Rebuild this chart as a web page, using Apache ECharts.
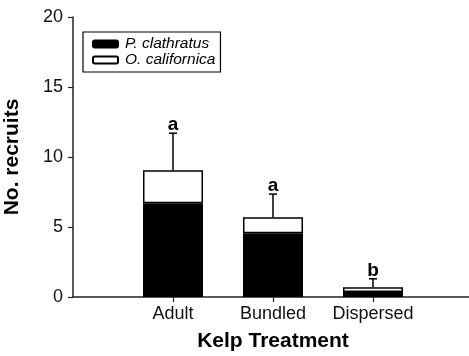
<!DOCTYPE html>
<html><head><meta charset="utf-8">
<script src="https://cdn.jsdelivr.net/npm/echarts@6/dist/echarts.min.js"></script>
<style>html,body{margin:0;padding:0;background:#fff}#c{width:469px;height:356px}</style>
</head><body><div id="c"></div>
<script>
const categories = ['Adult', 'Bundled', 'Dispersed'];
const pClathratus = [6.7, 4.55, 0.35];
const oCalifornica = [2.35, 1.15, 0.35];
const errorUpper = [11.7, 7.35, 1.3];
const letters = ['a', 'a', 'b'];
const yTicks = [0, 5, 10, 15, 20];

const axisCats = [''].concat(categories).concat(['']);
const pad = arr => ['-'].concat(arr).concat(['-']);
const errData = categories.map((c, i) => [i + 1, pClathratus[i] + oCalifornica[i], errorUpper[i], letters[i]]);
const font = 'Liberation Sans, Arial, sans-serif';

const chart = echarts.init(document.getElementById('c'));
chart.setOption({
  animation: false,
  backgroundColor: '#fff',
  grid: { left: 73, right: -4, top: 17, bottom: 59, containLabel: false, outerBoundsMode: 'none' },
  legend: {
    left: 83, top: 32, orient: 'vertical',
    data: ['P. clathratus', 'O. californica'],
    itemWidth: 25, itemHeight: 7, itemGap: 0,
    padding: [4, 5, 4, 9],
    borderColor: '#000', borderWidth: 1.2, borderRadius: 0,
    selectedMode: false,
    textStyle: { fontFamily: font, fontSize: 15.5, fontStyle: 'italic', color: '#000', padding: [0, 0, 0, 2] }
  },
  xAxis: {
    type: 'category', data: axisCats, boundaryGap: false,
    axisLine: { lineStyle: { color: '#222', width: 1.5 } },
    axisTick: { length: 5, interval: (i, v) => v !== '', lineStyle: { color: '#222', width: 1.2 } },
    axisLabel: { interval: 0, margin: 8, fontFamily: font, fontSize: 18, color: '#111' },
    name: 'Kelp Treatment', nameLocation: 'middle', nameGap: 34,
    nameTextStyle: { fontFamily: font, fontSize: 21, fontWeight: 'bold', color: '#000' },
    splitLine: { show: false }
  },
  yAxis: {
    type: 'value', min: 0, max: 20, interval: 5,
    axisLine: { show: true, lineStyle: { color: '#222', width: 1.5 } },
    axisTick: { show: true, inside: false, length: 5, lineStyle: { color: '#222', width: 1.2 } },
    axisLabel: { margin: 10, fontFamily: font, fontSize: 18, color: '#111',
      formatter: v => yTicks.includes(v) ? String(v) : '' },
    splitLine: { show: false },
    name: 'No. recruits', nameLocation: 'middle', nameGap: 50, nameRotate: 90,
    nameTextStyle: { fontFamily: font, fontSize: 21, fontWeight: 'bold', color: '#000' }
  },
  series: [
    { name: 'P. clathratus', type: 'bar', stack: 's', barWidth: 60, data: pad(pClathratus),
      itemStyle: { color: '#000', borderColor: '#000', borderWidth: 1.5 } },
    { name: 'O. californica', type: 'bar', stack: 's', barWidth: 60, data: pad(oCalifornica),
      itemStyle: { color: '#fff', borderColor: '#000', borderWidth: 1.5 } },
    { type: 'custom', data: errData, z: 10,
      renderItem: (params, api) => {
        const base = api.coord([api.value(0), api.value(1)]);
        const top = api.coord([api.value(0), api.value(2)]);
        const x = base[0];
        return { type: 'group', children: [
          { type: 'line', shape: { x1: x, y1: base[1], x2: x, y2: top[1] }, style: { stroke: '#000', lineWidth: 1.5 } },
          { type: 'line', shape: { x1: x - 4, y1: top[1], x2: x + 4, y2: top[1] }, style: { stroke: '#000', lineWidth: 1.5 } },
          { type: 'text', x: x, y: top[1] + 1, style: { text: errData[params.dataIndex][3], textAlign: 'center', textVerticalAlign: 'bottom',
            font: 'bold 19px ' + font, fill: '#000' } }
        ] };
      } }
  ]
});
</script></body></html>
